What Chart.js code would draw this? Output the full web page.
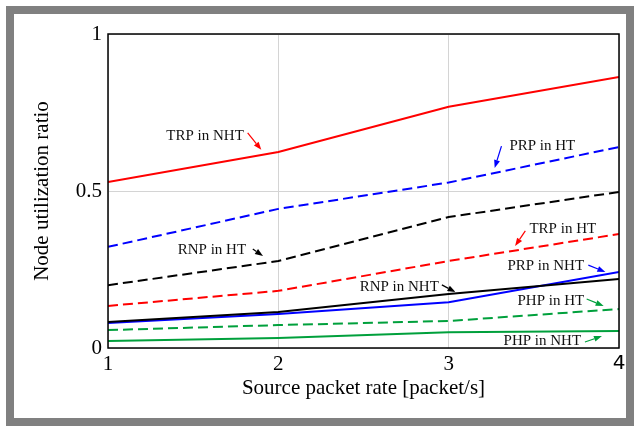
<!DOCTYPE html>
<html>
<head>
<meta charset="utf-8">
<script src="https://cdn.jsdelivr.net/npm/chart.js@4.4.0/dist/chart.umd.min.js"></script>
<style>
  html, body { margin: 0; padding: 0; background: #fff; }
  canvas { display: block; }
</style>
</head>
<body>
<canvas id="chart" width="636" height="426"></canvas>
<script>
'use strict';

// source packet rate [packet/s]
var rates = [1, 2, 3, 4];
var xTicks = [1, 2, 3, 4];
var yTicks = [0, 0.5, 1];

// node utilization ratio
var trpNht = [0.529, 0.624, 0.768, 0.863];
var prpHt  = [0.322, 0.443, 0.527, 0.640];
var rnpHt  = [0.200, 0.277, 0.417, 0.497];
var trpHt  = [0.134, 0.182, 0.277, 0.363];
var rnpNht = [0.083, 0.115, 0.172, 0.220];
var prpNht = [0.080, 0.108, 0.146, 0.242];
var phpHt  = [0.057, 0.073, 0.086, 0.124];
var phpNht = [0.022, 0.032, 0.050, 0.054];

// label text, label centre, arrow tail, arrow head (all in data units)
var labels = [
  { text: 'TRP in NHT', at: [1.57, 0.675], from: [1.82, 0.685], to: [1.90, 0.631], color: '#ff0000' },
  { text: 'PRP in HT',  at: [3.55, 0.643], from: [3.31, 0.643], to: [3.27, 0.573], color: '#0000ff' },
  { text: 'RNP in HT',  at: [1.61, 0.312], from: [1.85, 0.315], to: [1.91, 0.293], color: '#000000' },
  { text: 'TRP in HT',  at: [3.67, 0.379], from: [3.45, 0.373], to: [3.39, 0.325], color: '#ff0000' },
  { text: 'PRP in NHT', at: [3.57, 0.261], from: [3.82, 0.264], to: [3.92, 0.242], color: '#0000ff' },
  { text: 'RNP in NHT', at: [2.71, 0.194], from: [2.96, 0.201], to: [3.04, 0.178], color: '#000000' },
  { text: 'PHP in HT',  at: [3.60, 0.150], from: [3.81, 0.156], to: [3.91, 0.134], color: '#00a03c' },
  { text: 'PHP in NHT', at: [3.55, 0.022], from: [3.80, 0.019], to: [3.90, 0.038], color: '#00a03c' }
];

var green = '#00a03c';
var serif = 'Liberation Serif, Times New Roman, serif';

function points(values) {
  return values.map(function(v, i) { return { x: rates[i], y: v }; });
}

function series(values, color, dashed) {
  return {
    data: points(values),
    borderColor: color,
    borderWidth: 2,
    borderDash: dashed ? [10, 5] : [],
    pointRadius: 0,
    fill: false,
    tension: 0
  };
}

// grey picture frame, black box round the plot, text labels with arrows
var decorations = {
  id: 'decorations',
  beforeDraw: function(chart) {
    var c = chart.ctx;
    c.save();
    c.fillStyle = '#fff';
    c.fillRect(0, 0, chart.width, chart.height);
    c.strokeStyle = '#808080';
    c.lineWidth = 8;
    c.strokeRect(10, 10, 620, 412);
    c.restore();
  },
  afterDatasetsDraw: function(chart) {
    var c = chart.ctx;
    var a = chart.chartArea;
    var xs = chart.scales.x;
    var ys = chart.scales.y;
    c.save();
    c.strokeStyle = '#000';
    c.lineWidth = 1.5;
    c.strokeRect(a.left, a.top, a.right - a.left, a.bottom - a.top);

    c.font = '15px ' + serif;
    c.textAlign = 'center';
    c.textBaseline = 'middle';
    labels.forEach(function(l) {
      c.fillStyle = '#111';
      c.fillText(l.text, xs.getPixelForValue(l.at[0]), ys.getPixelForValue(l.at[1]));

      var x1 = xs.getPixelForValue(l.from[0]), y1 = ys.getPixelForValue(l.from[1]);
      var x2 = xs.getPixelForValue(l.to[0]), y2 = ys.getPixelForValue(l.to[1]);
      var ang = Math.atan2(y2 - y1, x2 - x1);
      var len = 8, wid = 3;
      c.strokeStyle = l.color;
      c.fillStyle = l.color;
      c.lineWidth = 1.2;
      c.beginPath();
      c.moveTo(x1, y1);
      c.lineTo(x2 - len * Math.cos(ang), y2 - len * Math.sin(ang));
      c.stroke();
      c.beginPath();
      c.moveTo(x2, y2);
      c.lineTo(x2 - len * Math.cos(ang) + wid * Math.sin(ang), y2 - len * Math.sin(ang) - wid * Math.cos(ang));
      c.lineTo(x2 - len * Math.cos(ang) - wid * Math.sin(ang), y2 - len * Math.sin(ang) + wid * Math.cos(ang));
      c.closePath();
      c.fill();
    });
    c.restore();
  }
};

var ctx = document.getElementById('chart');

var chart = new Chart(ctx, {
  type: 'line',
  data: {
    datasets: [
      series(trpNht, '#ff0000', false),
      series(prpHt, '#0000ff', true),
      series(rnpHt, '#000000', true),
      series(trpHt, '#ff0000', true),
      series(rnpNht, '#000000', false),
      series(prpNht, '#0000ff', false),
      series(phpHt, green, true),
      series(phpNht, green, false)
    ]
  },
  options: {
    responsive: false,
    animation: false,
    devicePixelRatio: 1,
    layout: { padding: { left: 0, top: 34, right: 17, bottom: 0 } },
    plugins: {
      legend: { display: false },
      tooltip: { enabled: false }
    },
    scales: {
      x: {
        type: 'linear',
        min: 1,
        max: 4,
        afterBuildTicks: function(scale) {
          scale.ticks = xTicks.map(function(v) { return { value: v }; });
        },
        afterFit: function(scale) { scale.height = 78; },
        grid: { color: '#d4d4d4', lineWidth: 1, drawTicks: false },
        border: { display: false },
        ticks: {
          color: '#000',
          padding: 4,
          // the "4" in the original is set in a different, sans face
          font: function(c) {
            return c.tick && c.tick.value === 4
              ? { family: 'DejaVu Sans, sans-serif', size: 20 }
              : { family: serif, size: 21 };
          }
        },
        title: {
          display: true,
          text: 'Source packet rate [packet/s]',
          color: '#000',
          font: { family: serif, size: 21 },
          padding: { top: 0, bottom: 25 }
        }
      },
      y: {
        min: 0,
        max: 1,
        afterBuildTicks: function(scale) {
          scale.ticks = yTicks.map(function(v) { return { value: v }; });
        },
        afterFit: function(scale) { scale.width = 108; },
        grid: { color: '#d4d4d4', lineWidth: 1, drawTicks: false },
        border: { display: false },
        ticks: {
          color: '#000',
          padding: 6,
          font: { family: serif, size: 21 },
          callback: function(v) { return String(v); }
        },
        title: {
          display: true,
          text: 'Node utilization ratio',
          color: '#000',
          font: { family: serif, size: 21 },
          padding: { top: 30, bottom: 0 }
        }
      }
    }
  },
  plugins: [decorations]
});
</script>
</body>
</html>
